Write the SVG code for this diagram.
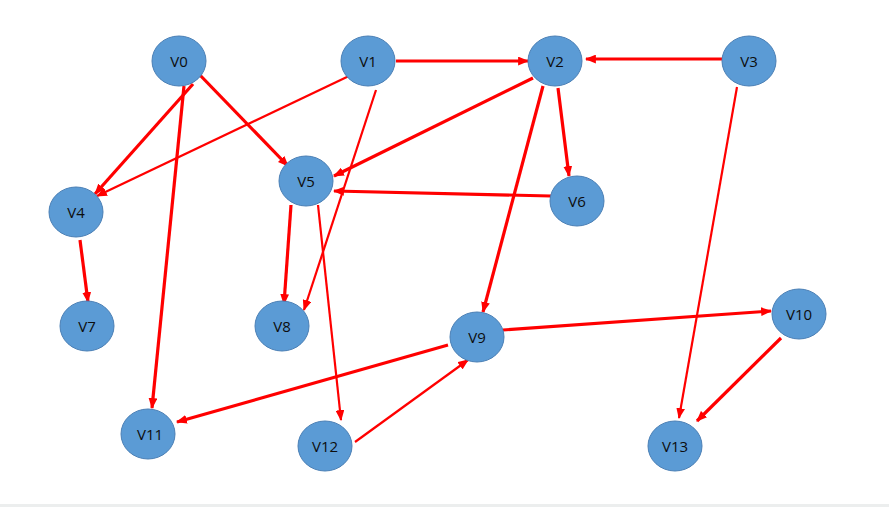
<svg xmlns="http://www.w3.org/2000/svg" width="889" height="507" viewBox="0 0 889 507">
<style>
.n ellipse{fill:#5b9bd5;stroke:#4a7fb5;stroke-width:1}
.n text{font-family:"Open Sans","Liberation Sans",sans-serif;font-size:15px;fill:#0d0d0d;text-anchor:middle;dominant-baseline:central}
.e line{stroke:#ff0000;stroke-width:3.2;marker-end:url(#a)}
.e line.t{stroke-width:2.2}
</style>
<defs>
<marker id="a" viewBox="0 0 10 8" refX="9" refY="4" markerWidth="11" markerHeight="9" markerUnits="userSpaceOnUse" orient="auto">
<path d="M0,0 L10,4 L0,8 z" fill="#ff0000"/>
</marker>
</defs>
<rect width="889" height="507" fill="#fff"/>
<rect y="504" width="889" height="3" fill="#eceeee"/>
<g class="e">
<line x1="193" y1="84" x2="95" y2="194"/>
<line x1="184" y1="86" x2="152" y2="408"/>
<line x1="197" y1="72" x2="288" y2="166"/>
<line class="t" x1="349" y1="76" x2="97" y2="196"/>
<line class="t" x1="376" y1="90" x2="304" y2="310"/>
<line x1="396" y1="61" x2="528" y2="61"/>
<line x1="722" y1="59" x2="586" y2="59"/>
<line x1="533" y1="78" x2="334" y2="176"/>
<line x1="558" y1="88" x2="569" y2="176"/>
<line x1="543" y1="86" x2="483" y2="312"/>
<line x1="551" y1="196" x2="334" y2="191"/>
<line x1="291" y1="205" x2="284" y2="304"/>
<line class="t" x1="318" y1="205" x2="341" y2="420"/>
<line x1="80" y1="240" x2="88" y2="302"/>
<line class="t" x1="737" y1="87" x2="679" y2="418"/>
<line x1="503" y1="330" x2="771" y2="311"/>
<line x1="781" y1="338" x2="697" y2="421"/>
<line x1="448" y1="345" x2="177" y2="422"/>
<line class="t" x1="355" y1="442" x2="468" y2="360"/>
</g>
<g id="V0" class="n"><ellipse cx="179" cy="61" rx="27" ry="25"/><text x="179" y="61">V0</text></g>
<g id="V1" class="n"><ellipse cx="368" cy="61" rx="27" ry="25"/><text x="368" y="61">V1</text></g>
<g id="V2" class="n"><ellipse cx="555" cy="61" rx="27" ry="25"/><text x="555" y="61">V2</text></g>
<g id="V3" class="n"><ellipse cx="749" cy="61" rx="27" ry="25"/><text x="749" y="61">V3</text></g>
<g id="V4" class="n"><ellipse cx="76" cy="212" rx="27" ry="25"/><text x="76" y="212">V4</text></g>
<g id="V5" class="n"><ellipse cx="306" cy="181" rx="27" ry="25"/><text x="306" y="181">V5</text></g>
<g id="V6" class="n"><ellipse cx="577" cy="201" rx="27" ry="25"/><text x="577" y="201">V6</text></g>
<g id="V7" class="n"><ellipse cx="87" cy="326" rx="27" ry="25"/><text x="87" y="326">V7</text></g>
<g id="V8" class="n"><ellipse cx="282" cy="326" rx="27" ry="25"/><text x="282" y="326">V8</text></g>
<g id="V9" class="n"><ellipse cx="477" cy="337" rx="27" ry="25"/><text x="477" y="337">V9</text></g>
<g id="V10" class="n"><ellipse cx="799" cy="314" rx="27" ry="25"/><text x="799" y="314">V10</text></g>
<g id="V11" class="n"><ellipse cx="148" cy="434" rx="27" ry="25"/><text x="150" y="434">V11</text></g>
<g id="V12" class="n"><ellipse cx="325" cy="446" rx="27" ry="25"/><text x="325" y="446">V12</text></g>
<g id="V13" class="n"><ellipse cx="675" cy="446" rx="27" ry="25"/><text x="675" y="446">V13</text></g>
</svg>
